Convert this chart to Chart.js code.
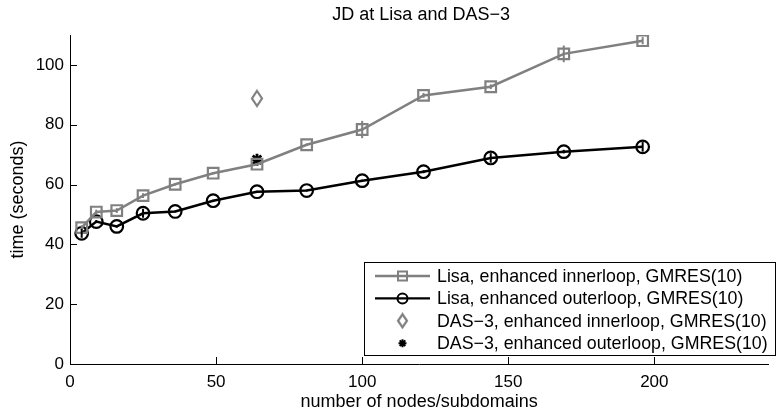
<!DOCTYPE html>
<html>
<head>
<meta charset="utf-8">
<script src="https://cdn.jsdelivr.net/npm/chart.js@4/dist/chart.umd.min.js"></script>
<style>
  html, body { margin: 0; padding: 0; background: #fff; }
  canvas { display: block; }
</style>
</head>
<body>
<canvas id="myChart" width="778" height="417"></canvas>
<script>
const nodes = [4, 9, 16, 25, 36, 49, 64, 81, 100, 121, 144, 169, 196];
const lisaInner = [45.6, 50.8, 51.3, 56.3, 60.1, 63.8, 66.8, 73.3, 78.4, 89.8, 92.7, 103.7, 108.1];
const lisaInnerErr = [0.8, 0.8, 0.8, 0.8, 0.4, 0.4, 0.4, 0.4, 2.9, 0.8, 0.8, 2.8, 1.2];
const lisaOuter = [43.7, 47.6, 46.0, 50.4, 51.0, 54.6, 57.6, 58.0, 61.3, 64.3, 68.9, 71.0, 72.6];
const lisaOuterErr = [1.5, 0.5, 0.4, 1.5, 0.3, 0.3, 0.3, 0.3, 0.3, 0.5, 1.6, 0.6, 1.6];
const dasNodes = [64];
const dasInner = [88.8];
const dasOuter = [68.3];

const chartTitle = 'JD at Lisa and DAS\u22123';
const seriesNames = [
  'Lisa, enhanced innerloop, GMRES(10)',
  'Lisa, enhanced outerloop, GMRES(10)',
  'DAS\u22123, enhanced innerloop, GMRES(10)',
  'DAS\u22123, enhanced outerloop, GMRES(10)'
];
const xTicks = [0, 50, 100, 150, 200];
const yTicks = [0, 20, 40, 60, 80, 100];

const GRAY = '#808080';
const FONT = 'Liberation Sans, Arial, Helvetica, sans-serif';

function pts(xs, ys) {
  return xs.map((x, i) => ({x: x, y: ys[i]}));
}

// tall diamond marker like matlab's 'd'
function diamond(w, h) {
  const c = document.createElement('canvas');
  c.width = w + 4; c.height = h + 4;
  const g = c.getContext('2d');
  g.strokeStyle = GRAY;
  g.lineWidth = 2.2;
  g.beginPath();
  g.moveTo(c.width / 2, 2);
  g.lineTo(c.width - 2, c.height / 2);
  g.lineTo(c.width / 2, c.height - 2);
  g.lineTo(2, c.height / 2);
  g.closePath();
  g.stroke();
  return c;
}
const diamondMark = diamond(10, 15);
const diamondSmall = diamond(9, 13);

const errorBars = {
  id: 'errorBars',
  afterDatasetsDraw(chart) {
    const ctx = chart.ctx;
    const xs = chart.scales.x, ys = chart.scales.y;
    [[lisaInner, lisaInnerErr, GRAY], [lisaOuter, lisaOuterErr, '#000']].forEach(([vals, errs, col]) => {
      ctx.save();
      ctx.strokeStyle = col;
      ctx.lineWidth = 2;
      nodes.forEach((n, i) => {
        const px = xs.getPixelForValue(n);
        ctx.beginPath();
        ctx.moveTo(px, ys.getPixelForValue(vals[i] - errs[i]));
        ctx.lineTo(px, ys.getPixelForValue(vals[i] + errs[i]));
        ctx.stroke();
      });
      ctx.restore();
    });
  }
};

// matlab style: ticks point inward, title centred over the axes
const axisTicks = {
  id: 'axisTicks',
  afterDraw(chart) {
    const ctx = chart.ctx;
    const a = chart.chartArea;
    const xs = chart.scales.x, ys = chart.scales.y;
    ctx.save();
    ctx.strokeStyle = '#000';
    ctx.lineWidth = 1;
    ctx.beginPath();
    xTicks.forEach(v => {
      const p = Math.round(xs.getPixelForValue(v)) + 0.5;
      ctx.moveTo(p, a.bottom);
      ctx.lineTo(p, a.bottom - 7);
    });
    yTicks.forEach(v => {
      const p = Math.round(ys.getPixelForValue(v)) + 0.5;
      ctx.moveTo(a.left, p);
      ctx.lineTo(a.left + 7, p);
    });
    ctx.stroke();
    ctx.fillStyle = '#000';
    ctx.font = '18px ' + FONT;
    ctx.textAlign = 'center';
    ctx.textBaseline = 'middle';
    ctx.fillText(chartTitle, (a.left + a.right) / 2 + 2, 15);
    ctx.restore();
  }
};

const boxLegend = {
  id: 'boxLegend',
  afterDraw(chart) {
    const ctx = chart.ctx;
    const x0 = 364.5, y0 = 262.5, w = 411, h = 93;
    ctx.save();
    ctx.fillStyle = '#fff';
    ctx.fillRect(x0, y0, w, h);
    ctx.strokeStyle = '#000';
    ctx.lineWidth = 1;
    ctx.strokeRect(x0, y0, w, h);
    const rows = [276, 298.4, 320.8, 343.2];
    const mx = 402.5;
    ctx.lineWidth = 2.4;
    // row 1
    ctx.strokeStyle = GRAY;
    ctx.beginPath(); ctx.moveTo(375, rows[0]); ctx.lineTo(430, rows[0]); ctx.stroke();
    ctx.lineWidth = 2;
    ctx.strokeRect(mx - 4.5, rows[0] - 4.5, 9, 9);
    // row 2
    ctx.strokeStyle = '#000';
    ctx.lineWidth = 2.4;
    ctx.beginPath(); ctx.moveTo(375, rows[1]); ctx.lineTo(430, rows[1]); ctx.stroke();
    ctx.lineWidth = 2;
    ctx.beginPath(); ctx.arc(mx, rows[1], 5, 0, Math.PI * 2); ctx.stroke();
    // row 3
    ctx.drawImage(diamondSmall, mx - diamondSmall.width / 2, rows[2] - diamondSmall.height / 2);
    // row 4 asterisk
    ctx.lineWidth = 2;
    ctx.beginPath();
    for (let k = 0; k < 4; k++) {
      const ang = k * Math.PI / 4;
      ctx.moveTo(mx - 4 * Math.cos(ang), rows[3] - 4 * Math.sin(ang));
      ctx.lineTo(mx + 4 * Math.cos(ang), rows[3] + 4 * Math.sin(ang));
    }
    ctx.stroke();
    ctx.fillStyle = '#000';
    ctx.font = '17.8px ' + FONT;
    ctx.textBaseline = 'middle';
    ctx.textAlign = 'left';
    seriesNames.forEach((s, i) => ctx.fillText(s, 437, rows[i] + 1));
    ctx.restore();
  }
};

const data = {
  datasets: [{
    label: seriesNames[0],
    data: pts(nodes, lisaInner),
    showLine: true,
    borderColor: GRAY,
    borderWidth: 2.5,
    pointStyle: 'rect',
    pointRadius: 7.5,
    pointBorderWidth: 2.2,
    pointBorderColor: GRAY,
    pointBackgroundColor: 'rgba(0,0,0,0)'
  }, {
    label: seriesNames[1],
    data: pts(nodes, lisaOuter),
    showLine: true,
    borderColor: '#000',
    borderWidth: 2.5,
    pointStyle: 'circle',
    pointRadius: 6.3,
    pointBorderWidth: 2.2,
    pointBorderColor: '#000',
    pointBackgroundColor: 'rgba(0,0,0,0)'
  }, {
    label: seriesNames[2],
    data: pts(dasNodes, dasInner),
    showLine: false,
    pointStyle: diamondMark,
    pointRadius: 8
  }, {
    label: seriesNames[3],
    data: pts(dasNodes, dasOuter),
    showLine: false,
    pointStyle: 'star',
    pointRadius: 6,
    pointBorderWidth: 2.8,
    pointBorderColor: '#000',
    pointBackgroundColor: '#000'
  }]
};

const config = {
  type: 'scatter',
  data: data,
  options: {
    responsive: false,
    animation: false,
    layout: { padding: { top: 35, left: 0, right: 0, bottom: 0 } },
    plugins: {
      legend: { display: false },
      tooltip: { enabled: false },
      title: { display: false }
    },
    scales: {
      x: {
        type: 'linear',
        min: 0,
        max: 239,
        afterBuildTicks: s => { s.ticks = xTicks.map(v => ({value: v})); },
        afterFit: s => { s.height = 53; },
        grid: { display: false, drawTicks: false },
        border: { display: true, color: '#000', width: 1 },
        ticks: { color: '#000', padding: 8, font: { family: FONT, size: 17 } },
        title: {
          display: true,
          text: 'number of nodes/subdomains',
          color: '#000',
          font: { family: FONT, size: 18 },
          padding: { top: 0, bottom: 4 }
        }
      },
      y: {
        type: 'linear',
        min: 0,
        max: 110,
        afterBuildTicks: s => { s.ticks = yTicks.map(v => ({value: v})); },
        afterFit: s => { s.width = 70; },
        grid: { display: false, drawTicks: false },
        border: { display: true, color: '#000', width: 1 },
        ticks: { color: '#000', padding: 6, font: { family: FONT, size: 17 } },
        title: {
          display: true,
          text: 'time (seconds)',
          color: '#000',
          font: { family: FONT, size: 18 },
          padding: { top: 7, bottom: 0 }
        }
      }
    }
  },
  plugins: [errorBars, axisTicks, boxLegend]
};

new Chart(document.getElementById('myChart'), config);
</script>
</body>
</html>
